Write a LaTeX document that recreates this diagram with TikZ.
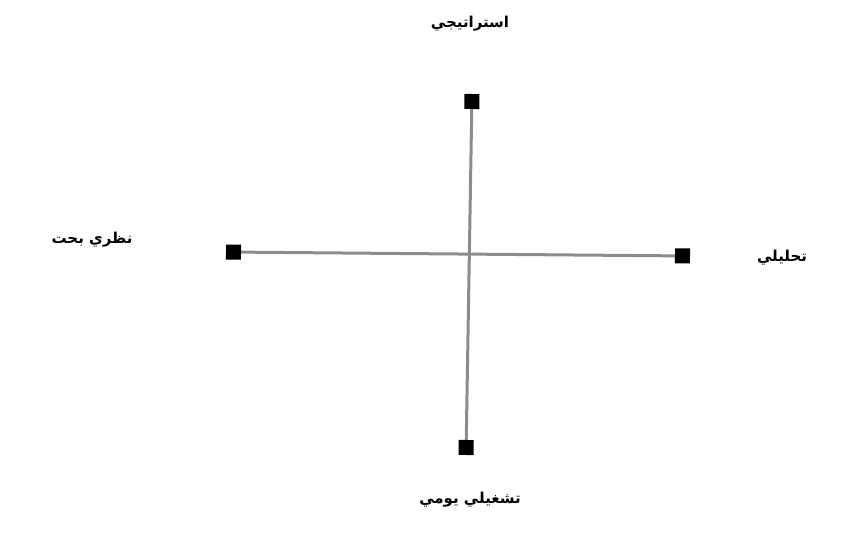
\documentclass[tikz,border=0pt]{standalone}
\usepackage{fontspec}
\newfontfamily\arabicfont[Script=Arabic]{DejaVu Sans}
\TeXXeTstate=1
\usetikzlibrary{arrows.meta}
\tikzset{
  endsq/.tip={Square[length=15pt,width=15pt,fill=black,color=black]},
  axis/.style={line width=3pt, draw=black!45, endsq-endsq},
  lab/.style={font=\arabicfont\bfseries\fontsize{15}{18}\selectfont, inner sep=1pt}
}
\begin{document}
\begin{tikzpicture}[x=1pt,y=-1pt]
\useasboundingbox (0,0) rectangle (862,534);
\coordinate (L) at (226,252);
\coordinate (R) at (690,256);
\coordinate (T) at (472,94);
\coordinate (B) at (466,455);
\draw[axis] (L) -- (R);
\draw[axis] (T) -- (B);
\node[lab] (top) at (470,24) {\beginR استراتيجي\endR};
\node[lab] (left) at (92,240) {\beginR نظري بحت\endR};
\node[lab] (right) at (782,258) {\beginR تحليلي\endR};
\node[lab] (bottom) at (470,500) {\beginR تشغيلي يومي\endR};
\end{tikzpicture}
\end{document}
